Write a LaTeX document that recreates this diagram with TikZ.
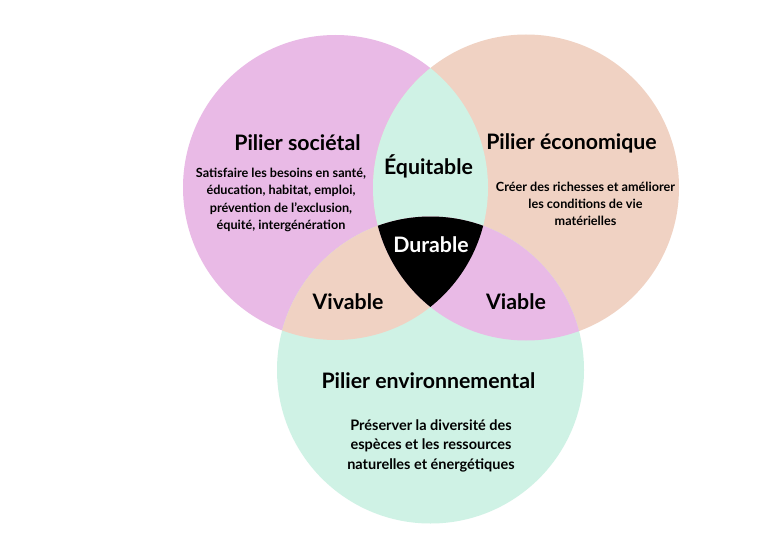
\documentclass[tikz,border=0pt]{standalone}
\usepackage{fontspec}
\setmainfont{Lato}
\definecolor{cpink}{HTML}{E9BAE6}
\definecolor{cpeach}{HTML}{F0D2C3}
\definecolor{cmint}{HTML}{CFF2E5}
\begin{document}
\begin{tikzpicture}[x=1pt,y=-1pt,
  title/.style={font=\fontsize{21.3}{25}\selectfont\bfseries, text=black, inner sep=0pt},
  desc/.style={font=\fontsize{12.65}{17.3}\selectfont\bfseries, text=black, align=center, inner sep=0pt},
  desc2/.style={font=\fontsize{14.5}{19.5}\selectfont\bfseries, text=black, align=center, inner sep=0pt}]
\useasboundingbox (0,0) rectangle (768,559);
\fill[white] (0,0) rectangle (768,559);
\def\pinkc{(335.5,187.5) circle (152.5pt)}
\def\peachc{(526,187.5) circle (153pt)}
\def\mintc{(430.5,370) circle (153.5pt)}
\fill[cpink] \pinkc;
\fill[cpeach] \peachc;
\fill[cmint] \mintc;
\begin{scope}
  \clip \pinkc; \fill[cmint] \peachc;
\end{scope}
\begin{scope}
  \clip \pinkc; \fill[cpeach] \mintc;
\end{scope}
\begin{scope}
  \clip \peachc; \fill[cpink] \mintc;
\end{scope}
\begin{scope}
  \clip \pinkc; \clip \peachc; \fill[black] \mintc;
\end{scope}
\node[title] (soc) at (297.5,143) {Pilier sociétal};
\node[title] (eco) at (571.5,143) {Pilier économique};
\node[title] (equ) at (428.5,166) {Équitable};
\node[title, text=white] (dur) at (431,245) {Durable};
\node[title] (viv) at (348,302) {Vivable};
\node[title] (via) at (516,302) {Viable};
\node[title] (env) at (428.5,381) {Pilier environnemental};
\node[desc] (dsoc) at (281,200) {Satisfaire les besoins en santé,\\éducation, habitat, emploi,\\prévention de l'exclusion,\\équité, intergénération};
\node[desc] (deco) at (585.5,204) {Créer des richesses et améliorer\\les conditions de vie\\matérielles};
\node[desc2] (denv) at (431,445.5) {Préserver la diversité des\\espèces et les ressources\\naturelles et énergétiques};
\end{tikzpicture}
\end{document}
